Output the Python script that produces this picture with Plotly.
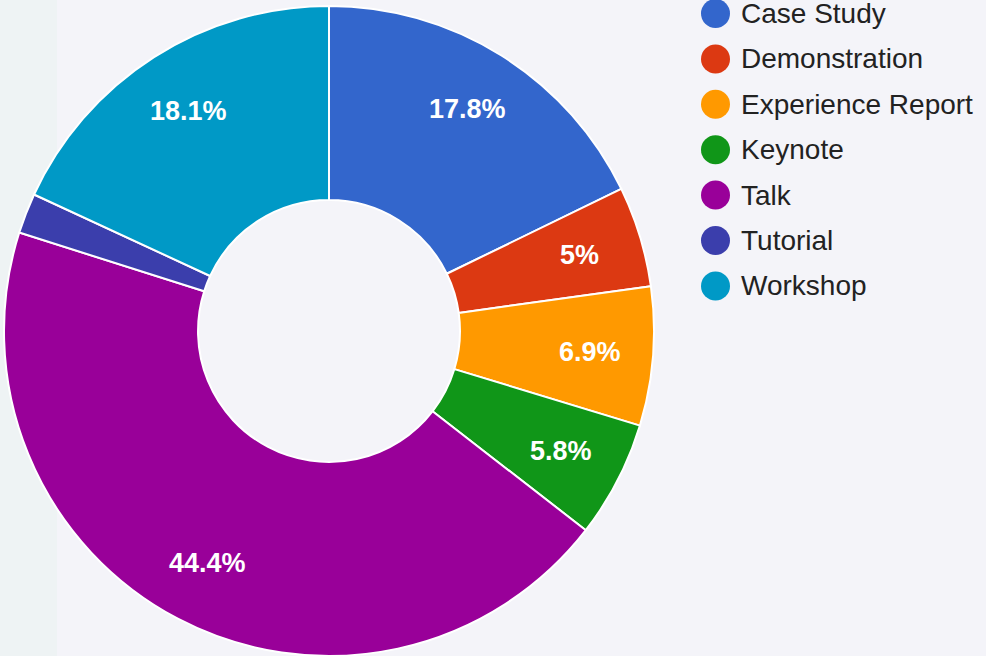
import math
import plotly.graph_objects as go

# Session types and their share of the programme (percent)
categories = ["Case Study", "Demonstration", "Experience Report", "Keynote",
              "Talk", "Tutorial", "Workshop"]
shares = [17.8, 5.0, 6.9, 5.8, 44.4, 2.0, 18.1]
colors = ["#3366cc", "#dc3912", "#ff9900", "#109618",
          "#990099", "#3b3eac", "#0099c6"]

W, H = 986, 656
BG = "#f4f4f9"
STRIP = "#eef3f4"
FONT = "Arial, Liberation Sans, sans-serif"

# Donut placement in pixels (converted to paper fractions below)
pie_left, pie_right = 4, 654
pie_top, pie_bottom = 6, 656
dom_x = [pie_left / W, pie_right / W]
dom_y = [1 - pie_bottom / H, 1 - pie_top / H]
radius = (pie_right - pie_left) / 2
cx = (pie_left + pie_right) / 2
cy = (pie_top + pie_bottom) / 2

fig = go.Figure()
fig.add_trace(go.Pie(
    labels=categories,
    values=shares,
    marker=dict(colors=colors, line=dict(color="white", width=2)),
    hole=0.403,
    sort=False,
    direction="clockwise",
    rotation=0,
    textinfo="none",
    hoverinfo="label+percent",
    showlegend=False,
    domain=dict(x=dom_x, y=dom_y),
))

# Percentage labels inside each slice (skipped for slivers too thin to hold text)
total = sum(shares)
acc = 0.0
annotations = []
for cat, v in zip(categories, shares):
    frac = v / total
    mid = (acc + frac / 2) * 2 * math.pi
    acc += frac
    pct = frac * 100
    if pct < 3:
        continue
    txt = f"{pct:.1f}".rstrip("0").rstrip(".") + "%"
    r = 0.805 * radius
    px = cx + r * math.sin(mid)
    py = cy - r * math.cos(mid)
    annotations.append(dict(
        x=px / W, y=1 - py / H, xref="paper", yref="paper",
        text=f"<b>{txt}</b>", showarrow=False, xanchor="center", yanchor="middle",
        font=dict(family=FONT, size=27, color="white"),
    ))

# Legend: round swatches with category names, one row per category
shapes = [dict(type="rect", xref="paper", yref="paper", x0=0, x1=57 / W,
               y0=0, y1=1, fillcolor=STRIP, line=dict(width=0), layer="below")]
leg_x, leg_y0, leg_step, dot_r = 715.5, 13.5, 45.4, 14.5
for i, (cat, col) in enumerate(zip(categories, colors)):
    yc = leg_y0 + i * leg_step
    shapes.append(dict(
        type="circle", xref="paper", yref="paper",
        x0=(leg_x - dot_r) / W, x1=(leg_x + dot_r) / W,
        y0=1 - (yc + dot_r) / H, y1=1 - (yc - dot_r) / H,
        fillcolor=col, line=dict(width=0),
    ))
    annotations.append(dict(
        x=740 / W, y=1 - yc / H, xref="paper", yref="paper",
        text=cat, showarrow=False, xanchor="left", yanchor="middle",
        borderpad=0,
        font=dict(family=FONT, size=28, color="#222222"),
    ))

fig.update_layout(
    width=W, height=H,
    margin=dict(l=0, r=0, t=0, b=0),
    paper_bgcolor=BG, plot_bgcolor=BG,
    shapes=shapes,
    annotations=annotations,
)

fig.write_html("out.html")
